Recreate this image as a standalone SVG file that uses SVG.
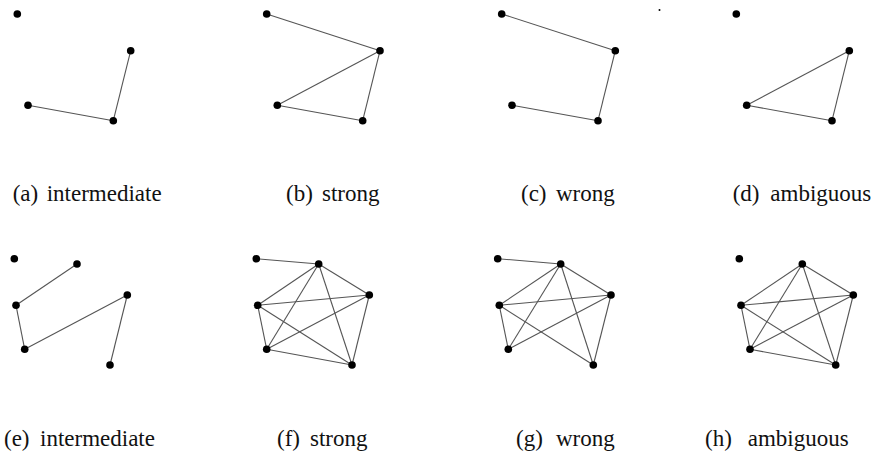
<svg xmlns="http://www.w3.org/2000/svg" width="876" height="454" viewBox="0 0 876 454">
<style>
.n{fill:#000}
.e line{stroke:#555;stroke-width:1.1}
.t{font-size:23px;fill:#111}
</style>
<rect width="876" height="454" fill="#fff"/>
<g class="e" id="connectors">
<line x1="28" y1="105.3" x2="113.3" y2="120.7"/>
<line x1="113.3" y1="120.7" x2="130.7" y2="50.7"/>
<line x1="266.7" y1="14" x2="380" y2="50.7"/>
<line x1="380" y1="50.7" x2="277.3" y2="105.3"/>
<line x1="380" y1="50.7" x2="362.7" y2="120.7"/>
<line x1="277.3" y1="105.3" x2="362.7" y2="120.7"/>
<line x1="501.7" y1="14" x2="615.3" y2="50.7"/>
<line x1="615.3" y1="50.7" x2="598" y2="120.7"/>
<line x1="512" y1="105.3" x2="598" y2="120.7"/>
<line x1="849.3" y1="50.7" x2="746.7" y2="105.3"/>
<line x1="849.3" y1="50.7" x2="832" y2="120.7"/>
<line x1="746.7" y1="105.3" x2="832" y2="120.7"/>
<line x1="77" y1="264" x2="16" y2="305.3"/>
<line x1="16" y1="305.3" x2="24.7" y2="349.3"/>
<line x1="24.7" y1="349.3" x2="127.3" y2="295"/>
<line x1="127.3" y1="295" x2="110" y2="365"/>
<line x1="256.3" y1="258.7" x2="318.7" y2="264"/>
<line x1="318.7" y1="264" x2="369.3" y2="295"/>
<line x1="318.7" y1="264" x2="257.7" y2="305.3"/>
<line x1="318.7" y1="264" x2="266.7" y2="349.3"/>
<line x1="318.7" y1="264" x2="352" y2="365"/>
<line x1="257.7" y1="305.3" x2="369.3" y2="295"/>
<line x1="369.3" y1="295" x2="266.7" y2="349.3"/>
<line x1="369.3" y1="295" x2="352" y2="365"/>
<line x1="257.7" y1="305.3" x2="266.7" y2="349.3"/>
<line x1="257.7" y1="305.3" x2="352" y2="365"/>
<line x1="266.7" y1="349.3" x2="352" y2="365"/>
<line x1="497.7" y1="258.7" x2="560.7" y2="264"/>
<line x1="560.7" y1="264" x2="611" y2="295"/>
<line x1="560.7" y1="264" x2="499.3" y2="305.3"/>
<line x1="560.7" y1="264" x2="508.3" y2="349.3"/>
<line x1="560.7" y1="264" x2="593.3" y2="365"/>
<line x1="499.3" y1="305.3" x2="611" y2="295"/>
<line x1="611" y1="295" x2="508.3" y2="349.3"/>
<line x1="611" y1="295" x2="593.3" y2="365"/>
<line x1="499.3" y1="305.3" x2="508.3" y2="349.3"/>
<line x1="499.3" y1="305.3" x2="593.3" y2="365"/>
<line x1="802.3" y1="264" x2="853.3" y2="295"/>
<line x1="802.3" y1="264" x2="741" y2="305.3"/>
<line x1="802.3" y1="264" x2="750" y2="349.3"/>
<line x1="802.3" y1="264" x2="835.7" y2="365"/>
<line x1="741" y1="305.3" x2="853.3" y2="295"/>
<line x1="853.3" y1="295" x2="750" y2="349.3"/>
<line x1="853.3" y1="295" x2="835.7" y2="365"/>
<line x1="741" y1="305.3" x2="750" y2="349.3"/>
<line x1="741" y1="305.3" x2="835.7" y2="365"/>
<line x1="750" y1="349.3" x2="835.7" y2="365"/>
</g>
<g id="a">
<circle class="n" cx="17.3" cy="14" r="3.8"/><circle class="n" cx="130.7" cy="50.7" r="3.8"/><circle class="n" cx="28" cy="105.3" r="3.8"/><circle class="n" cx="113.3" cy="120.7" r="3.8"/>
<text class="t" font-family="Liberation Serif, Times New Roman, serif" y="201"><tspan x="12.7">(a)</tspan><tspan x="46.7">intermediate</tspan></text>
</g>
<g id="b">
<circle class="n" cx="266.7" cy="14" r="3.8"/><circle class="n" cx="380" cy="50.7" r="3.8"/><circle class="n" cx="277.3" cy="105.3" r="3.8"/><circle class="n" cx="362.7" cy="120.7" r="3.8"/>
<text class="t" font-family="Liberation Serif, Times New Roman, serif" y="201"><tspan x="286">(b)</tspan><tspan x="322">strong</tspan></text>
</g>
<g id="c">
<circle class="n" cx="501.7" cy="14" r="3.8"/><circle class="n" cx="615.3" cy="50.7" r="3.8"/><circle class="n" cx="512" cy="105.3" r="3.8"/><circle class="n" cx="598" cy="120.7" r="3.8"/>
<circle class="n" cx="659.5" cy="10" r="1"/>
<text class="t" font-family="Liberation Serif, Times New Roman, serif" y="201"><tspan x="521">(c)</tspan><tspan x="556">wrong</tspan></text>
</g>
<g id="d">
<circle class="n" cx="736.3" cy="14" r="3.8"/><circle class="n" cx="849.3" cy="50.7" r="3.8"/><circle class="n" cx="746.7" cy="105.3" r="3.8"/><circle class="n" cx="832" cy="120.7" r="3.8"/>
<text class="t" font-family="Liberation Serif, Times New Roman, serif" y="201"><tspan x="732.7">(d)</tspan><tspan x="770.3">ambiguous</tspan></text>
</g>
<g id="e">
<circle class="n" cx="14.3" cy="258.7" r="3.8"/><circle class="n" cx="77" cy="264" r="3.8"/><circle class="n" cx="16" cy="305.3" r="3.8"/><circle class="n" cx="127.3" cy="295" r="3.8"/><circle class="n" cx="24.7" cy="349.3" r="3.8"/><circle class="n" cx="110" cy="365" r="3.8"/>
<text class="t" font-family="Liberation Serif, Times New Roman, serif" y="446"><tspan x="4">(e)</tspan><tspan x="40">intermediate</tspan></text>
</g>
<g id="f">
<circle class="n" cx="256.3" cy="258.7" r="3.8"/><circle class="n" cx="318.7" cy="264" r="3.8"/><circle class="n" cx="369.3" cy="295" r="3.8"/><circle class="n" cx="257.7" cy="305.3" r="3.8"/><circle class="n" cx="266.7" cy="349.3" r="3.8"/><circle class="n" cx="352" cy="365" r="3.8"/>
<text class="t" font-family="Liberation Serif, Times New Roman, serif" y="446"><tspan x="277">(f)</tspan><tspan x="310">strong</tspan></text>
</g>
<g id="g">
<circle class="n" cx="497.7" cy="258.7" r="3.8"/><circle class="n" cx="560.7" cy="264" r="3.8"/><circle class="n" cx="611" cy="295" r="3.8"/><circle class="n" cx="499.3" cy="305.3" r="3.8"/><circle class="n" cx="508.3" cy="349.3" r="3.8"/><circle class="n" cx="593.3" cy="365" r="3.8"/>
<text class="t" font-family="Liberation Serif, Times New Roman, serif" y="446"><tspan x="516">(g)</tspan><tspan x="556">wrong</tspan></text>
</g>
<g id="h">
<circle class="n" cx="739.3" cy="258.7" r="3.8"/><circle class="n" cx="802.3" cy="264" r="3.8"/><circle class="n" cx="853.3" cy="295" r="3.8"/><circle class="n" cx="741" cy="305.3" r="3.8"/><circle class="n" cx="750" cy="349.3" r="3.8"/><circle class="n" cx="835.7" cy="365" r="3.8"/>
<text class="t" font-family="Liberation Serif, Times New Roman, serif" y="446"><tspan x="705">(h)</tspan><tspan x="747.7">ambiguous</tspan></text>
</g>
</svg>
